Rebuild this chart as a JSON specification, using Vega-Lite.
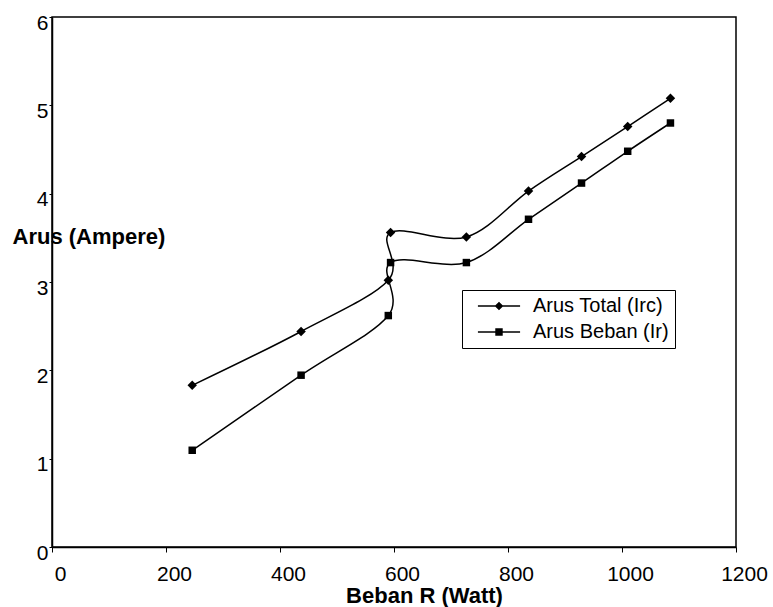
{
  "$schema": "https://vega.github.io/schema/vega-lite/v6.json",
  "width": 684,
  "height": 530,
  "autosize": {"type": "none"},
  "padding": {"left": 52, "top": 17, "right": 37, "bottom": 60},
  "background": "white",
  "config": {
    "font": "Liberation Sans",
    "view": {"stroke": "black", "strokeWidth": 1.5},
    "axis": {
      "domainColor": "black", "domainWidth": 1.5, "tickColor": "black", "tickWidth": 1,
      "labelColor": "black", "titleColor": "black", "grid": false,
      "labelFont": "Liberation Sans", "titleFont": "Liberation Sans"
    },
    "legend": {"labelFont": "Liberation Sans"}
  },
  "data": {
    "values": [
      {"series": "Arus Total (Irc)", "i": 1, "watt": 246, "amp": 1.83},
      {"series": "Arus Total (Irc)", "i": 2, "watt": 437, "amp": 2.44},
      {"series": "Arus Total (Irc)", "i": 3, "watt": 590, "amp": 3.02},
      {"series": "Arus Total (Irc)", "i": 4, "watt": 594, "amp": 3.56},
      {"series": "Arus Total (Irc)", "i": 5, "watt": 727, "amp": 3.51},
      {"series": "Arus Total (Irc)", "i": 6, "watt": 836, "amp": 4.03},
      {"series": "Arus Total (Irc)", "i": 7, "watt": 929, "amp": 4.42},
      {"series": "Arus Total (Irc)", "i": 8, "watt": 1010, "amp": 4.76},
      {"series": "Arus Total (Irc)", "i": 9, "watt": 1085, "amp": 5.08},
      {"series": "Arus Beban (Ir)", "i": 1, "watt": 246, "amp": 1.095},
      {"series": "Arus Beban (Ir)", "i": 2, "watt": 437, "amp": 1.945},
      {"series": "Arus Beban (Ir)", "i": 3, "watt": 590, "amp": 2.62},
      {"series": "Arus Beban (Ir)", "i": 4, "watt": 594, "amp": 3.22},
      {"series": "Arus Beban (Ir)", "i": 5, "watt": 727, "amp": 3.22},
      {"series": "Arus Beban (Ir)", "i": 6, "watt": 836, "amp": 3.71},
      {"series": "Arus Beban (Ir)", "i": 7, "watt": 929, "amp": 4.12},
      {"series": "Arus Beban (Ir)", "i": 8, "watt": 1010, "amp": 4.48},
      {"series": "Arus Beban (Ir)", "i": 9, "watt": 1085, "amp": 4.8}
    ]
  },
  "encoding": {
    "x": {
      "field": "watt", "type": "quantitative",
      "scale": {"domain": [0, 1200], "nice": false},
      "axis": {
        "title": "Beban R (Watt)", "values": [0, 200, 400, 600, 800, 1000, 1200], "format": "d",
        "tickSize": 5, "labelPadding": 11, "labelOffset": 8, "labelFontSize": 21,
        "labelFlush": false, "labelOverlap": false,
        "titleFontSize": 22, "titleFontWeight": "bold", "titleX": 372, "titleY": 55,
        "titleBaseline": "alphabetic", "titleAlign": "center"
      }
    },
    "y": {
      "field": "amp", "type": "quantitative",
      "scale": {"domain": [0, 6], "nice": false},
      "axis": {
        "title": "Arus (Ampere)", "values": [0, 1, 2, 3, 4, 5, 6],
        "tickSize": 3, "labelPadding": 1, "labelOffset": 6, "labelFontSize": 21,
        "labelFlush": false, "labelOverlap": false,
        "titleFontSize": 22, "titleFontWeight": "bold", "titleAngle": 0,
        "titleAlign": "left", "titleBaseline": "middle", "titleX": -40, "titleY": 219
      }
    }
  },
  "layer": [
    {
      "mark": {"type": "line", "interpolate": "cardinal", "color": "black", "strokeWidth": 1.5},
      "encoding": {
        "detail": {"field": "series", "type": "nominal"},
        "order": {"field": "i", "type": "quantitative"}
      }
    },
    {
      "mark": {"type": "point", "filled": true, "color": "black", "opacity": 1},
      "encoding": {
        "shape": {
          "field": "series", "type": "nominal",
          "scale": {"domain": ["Arus Total (Irc)", "Arus Beban (Ir)"], "range": ["diamond", "square"]},
          "legend": null
        },
        "size": {
          "field": "series", "type": "nominal",
          "scale": {"domain": ["Arus Total (Irc)", "Arus Beban (Ir)"], "range": [90, 56]},
          "legend": null
        }
      }
    },
    {
      "transform": [{"filter": "datum.amp > 100"}],
      "mark": {"type": "point", "filled": true, "color": "black", "opacity": 1},
      "encoding": {
        "shape": {
          "field": "series", "type": "nominal",
          "scale": {
            "domain": ["Arus Total (Irc)", "Arus Beban (Ir)"],
            "range": [
              "M-0.68,-0.025H0.68V0.025H-0.68Z M0,-0.14L0.14,0L0,0.14L-0.14,0Z",
              "M-0.68,-0.025H0.68V0.025H-0.68Z M-0.12,-0.12H0.12V0.12H-0.12Z"
            ]
          },
          "legend": {
            "title": null, "orient": "none", "legendX": 410, "legendY": 273,
            "padding": 6, "strokeColor": "black", "fillColor": "white",
            "symbolSize": 3844, "symbolFillColor": "black", "symbolStrokeWidth": 0,
            "symbolOpacity": 1, "clipHeight": 20,
            "labelFontSize": 20, "labelColor": "black", "labelOffset": 3,
            "rowPadding": 6, "labelLimit": 300
          }
        }
      }
    }
  ],
  "resolve": {"scale": {"shape": "independent", "size": "independent"}, "legend": {"shape": "independent"}}
}
